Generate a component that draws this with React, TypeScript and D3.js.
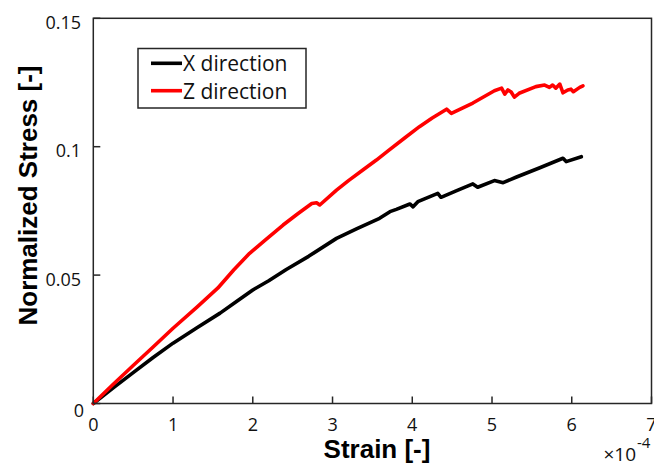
import React from "react";
import * as d3 from "d3";

// Strain values are in units of 1e-4
const xStrain = [0, 0.25, 0.5, 0.75, 1.0, 1.3, 1.59, 1.8, 2.0, 2.2, 2.42, 2.7, 3.05, 3.3, 3.59, 3.72, 3.8, 3.97, 4.01, 4.07, 4.32, 4.36, 4.55, 4.76, 4.82, 5.03, 5.14, 5.3, 5.6, 5.89, 5.93, 6.12];
const xStress = [0, 0.0061, 0.012, 0.0179, 0.0235, 0.0295, 0.0352, 0.0398, 0.0442, 0.0478, 0.0522, 0.0573, 0.0643, 0.068, 0.0721, 0.0747, 0.0756, 0.0777, 0.0766, 0.0786, 0.0818, 0.0803, 0.0828, 0.0855, 0.0842, 0.0868, 0.086, 0.0881, 0.0918, 0.0955, 0.0942, 0.0961];

const zStrain = [0, 0.25, 0.5, 0.75, 1.0, 1.3, 1.56, 1.76, 1.96, 2.17, 2.38, 2.56, 2.74, 2.8, 2.84, 3.05, 3.2, 3.38, 3.55, 3.7, 3.9, 4.09, 4.25, 4.43, 4.49, 4.76, 5.03, 5.12, 5.16, 5.2, 5.24, 5.28, 5.34, 5.55, 5.66, 5.72, 5.76, 5.8, 5.85, 5.89, 5.95, 5.99, 6.02, 6.1, 6.14];
const zStress = [0, 0.0075, 0.0148, 0.022, 0.0293, 0.0375, 0.0449, 0.052, 0.0585, 0.064, 0.0695, 0.0738, 0.0779, 0.0782, 0.0773, 0.0831, 0.0868, 0.0909, 0.0948, 0.0985, 0.1033, 0.1078, 0.1112, 0.1146, 0.113, 0.117, 0.1218, 0.1228, 0.1205, 0.1221, 0.1213, 0.1193, 0.1208, 0.1234, 0.124, 0.1231, 0.124, 0.1228, 0.1244, 0.121, 0.1221, 0.1224, 0.1214, 0.1231, 0.1237];

const xTicks = [0, 1, 2, 3, 4, 5, 6, 7];
const yTicks = [0, 0.05, 0.1, 0.15];
const yTickLabels = ["0", "0.05", "0.1", "0.15"];

const seriesNames = ["X direction", "Z direction"];
const seriesColors = ["#000000", "#ff0000"];

export default function App() {
  const W = 654, H = 466;
  const left = 93.3, right = 651.5, top = 18.3, bottom = 403.5;
  const x = d3.scaleLinear().domain([0, 7]).range([left, right]);
  const y = d3.scaleLinear().domain([0, 0.15]).range([bottom, top]);
  const line = d3.line<[number, number]>().x(d => x(d[0])).y(d => y(d[1]));
  const xd = xStrain.map((v, i) => [v, xStress[i]] as [number, number]);
  const zd = zStrain.map((v, i) => [v, zStress[i]] as [number, number]);
  const axisColor = "#262626";
  const tickFont = "'Open Sans', 'Liberation Sans', sans-serif";
  const titleFont = "'Liberation Sans', Arial, sans-serif";
  return (
    <svg width={W} height={H} style={{ position: "absolute", left: 0, top: 0, background: "#fff" }}>
      <rect x={0} y={0} width={W} height={H} fill="#fff" />
      {/* data lines */}
      <path d={line(xd) || ""} fill="none" stroke={seriesColors[0]} strokeWidth={3.6} strokeLinejoin="round" strokeLinecap="round" />
      <path d={line(zd) || ""} fill="none" stroke={seriesColors[1]} strokeWidth={3.6} strokeLinejoin="round" strokeLinecap="round" />
      {/* box */}
      <rect x={left} y={top} width={right - left} height={bottom - top} fill="none" stroke={axisColor} strokeWidth={1.5} />
      {/* x ticks */}
      {xTicks.map(t => (
        <g key={"xt" + t}>
          <line x1={x(t)} x2={x(t)} y1={bottom} y2={bottom - 7} stroke={axisColor} strokeWidth={1.5} />
          <text x={x(t)} y={431} textAnchor="middle" fontFamily={tickFont} fontSize={18} fill="#111">{t}</text>
        </g>
      ))}
      {/* y ticks */}
      {yTicks.map((t, i) => (
        <g key={"yt" + t}>
          <line x1={left} x2={left + 7} y1={y(t)} y2={y(t)} stroke={axisColor} strokeWidth={1.5} />
          <text x={i === 0 ? 84 : 81} y={y(t) + (i === 0 ? 13 : 10.5)} textAnchor="end" fontFamily={tickFont} fontSize={18} fill="#111">{yTickLabels[i]}</text>
        </g>
      ))}
      {/* exponent */}
      <text x={636} y={461} textAnchor="end" fontFamily={tickFont} fontSize={19} fill="#111">×10</text>
      <text x={637} y={448} textAnchor="start" fontFamily={tickFont} fontSize={15} fill="#111">-4</text>
      {/* axis titles */}
      <text x={377} y={458} textAnchor="middle" fontFamily={titleFont} fontWeight="bold" fontSize={26} fill="#000">Strain [-]</text>
      <text transform="translate(37,195.5) rotate(-90)" textAnchor="middle" fontFamily={titleFont} fontWeight="bold" fontSize={26} fill="#000">Normalized Stress [-]</text>
      {/* legend */}
      <rect x={138} y={48.5} width={168} height={59.5} fill="#fff" stroke={axisColor} strokeWidth={1.5} />
      {seriesNames.map((n, i) => (
        <g key={n}>
          <line x1={151} x2={182} y1={63.3 + i * 27.4} y2={63.3 + i * 27.4} stroke={seriesColors[i]} strokeWidth={3.6} />
          <text x={183} y={63.3 + i * 27.4 + 8} fontFamily={tickFont} fontSize={21} fill="#111">{n}</text>
        </g>
      ))}
    </svg>
  );
}
